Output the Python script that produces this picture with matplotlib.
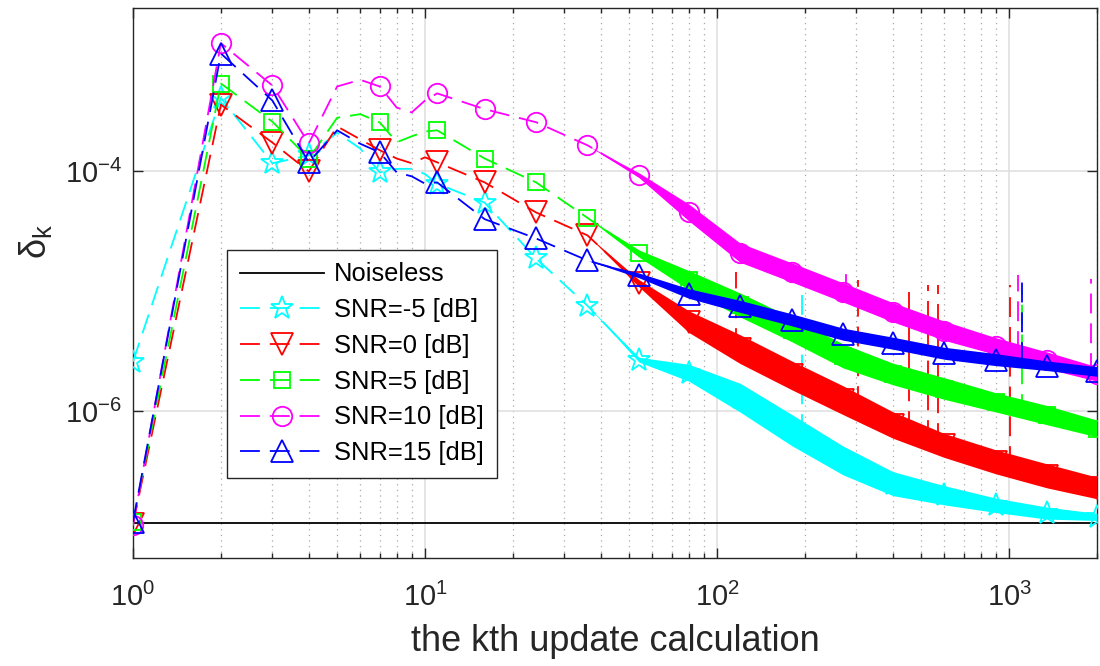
import numpy as np
import matplotlib
matplotlib.use('Agg')
import matplotlib.pyplot as plt
from matplotlib.ticker import FixedLocator, NullLocator, LogLocator

plt.rcParams['font.family'] = ['Liberation Sans', 'DejaVu Sans']
plt.rcParams['mathtext.fontset'] = 'custom'
plt.rcParams['mathtext.rm'] = 'Liberation Sans'
plt.rcParams['mathtext.it'] = 'Liberation Sans:italic'
plt.rcParams['mathtext.bf'] = 'Liberation Sans:bold'
plt.rcParams['axes.unicode_minus'] = False

# ---------------- data ----------------
k = [1, 2, 3, 4, 5, 6, 7, 8, 9, 10, 11, 16, 24, 36, 54, 80, 120, 180, 270, 400, 600, 900, 1350, 2000]
marker_k = [1, 2, 3, 4, 7, 11, 16, 24, 36, 54, 80, 120, 180, 270, 400, 600, 900, 1350, 2000]

noiseless_k = [1, 2000]
noiseless = [1.17e-7, 1.17e-7]

snr_m5 = [2.6e-6, 4.1e-4, 1.17e-4, 1.36e-4, 2.1e-4, 1.55e-4, 9.8e-5, 1.05e-4, 1.05e-4, 9.5e-5, 7.9e-5,
          5.5e-5, 1.88e-5, 7.6e-6, 2.7e-6, 2.1e-6, 1.3e-6, 7.0e-7, 3.9e-7, 2.5e-7, 2.0e-7, 1.65e-7, 1.42e-7, 1.32e-7]
snr_0 = [1.15e-7, 3.6e-4, 1.74e-4, 1.0e-4, 2.37e-4, 1.85e-4, 1.5e-4, 1.28e-4, 1.17e-4, 1.31e-4, 1.19e-4,
         8.1e-5, 4.55e-5, 2.93e-5, 1.17e-5, 5.6e-6, 3.3e-6, 2.0e-6, 1.24e-6, 7.7e-7, 5.2e-7, 3.8e-7, 2.9e-7, 2.3e-7]
snr_5 = [1.2e-7, 5.4e-4, 2.6e-4, 1.28e-4, 2.8e-4, 3.0e-4, 2.56e-4, 1.75e-4, 1.96e-4, 2.15e-4, 2.2e-4,
         1.28e-4, 8.1e-5, 4.1e-5, 2.07e-5, 1.24e-5, 7.7e-6, 4.8e-6, 2.9e-6, 2.05e-6, 1.55e-6, 1.19e-6, 9.3e-7, 7.2e-7]
snr_10 = [1.12e-7, 1.17e-3, 5.2e-4, 1.71e-4, 5.1e-4, 5.8e-4, 5.1e-4, 3.4e-4, 3.1e-4, 3.9e-4, 4.47e-4,
          3.3e-4, 2.57e-4, 1.65e-4, 9.3e-5, 4.55e-5, 2.1e-5, 1.44e-5, 9.8e-6, 6.7e-6, 4.7e-6, 3.5e-6, 2.66e-6, 2.05e-6]
snr_15 = [1.2e-7, 9.6e-4, 3.9e-4, 1.19e-4, 2.2e-4, 1.7e-4, 1.44e-4, 9.8e-5, 9.1e-5, 7.9e-5, 8.1e-5,
          4.0e-5, 2.76e-5, 1.81e-5, 1.36e-5, 9.6e-6, 7.5e-6, 5.8e-6, 4.4e-6, 3.7e-6, 3.05e-6, 2.7e-6, 2.4e-6, 2.15e-6]

# half-width of the noise band (decades) at each k
spread_m5 = [0]*14 + [0.02, 0.07, 0.12, 0.13, 0.12, 0.10, 0.08, 0.06, 0.05, 0.03]
spread_0 = [0]*14 + [0.03, 0.09, 0.12, 0.12, 0.12, 0.11, 0.10, 0.10, 0.10, 0.09]
spread_5 = [0]*14 + [0.03, 0.08, 0.10, 0.10, 0.10, 0.09, 0.09, 0.08, 0.08, 0.07]
spread_10 = [0]*14 + [0.02, 0.07, 0.08, 0.08, 0.08, 0.08, 0.08, 0.07, 0.07, 0.06]
spread_15 = [0]*14 + [0.02, 0.04, 0.05, 0.05, 0.05, 0.05, 0.05, 0.05, 0.04, 0.04]

# isolated spikes: k, top, base
spk_m5_k, spk_m5_top, spk_m5_base = [195], [1.17e-5], [6.5e-7]
spk_0_k = [116, 304, 455, 528, 571, 1008]
spk_0_top = [1.44e-5, 1.24e-5, 1.14e-5, 1.14e-5, 1.14e-5, 1.12e-5]
spk_0_base = [3.4e-6, 1.1e-6, 6.8e-7, 5.8e-7, 5.4e-7, 3.5e-7]
spk_5_k, spk_5_top, spk_5_base = [1109], [1.02e-5], [9.5e-7]
spk_10_k, spk_10_top, spk_10_base = [277, 1074, 1909], [1.41e-5, 1.36e-5, 1.28e-5], [9.5e-6, 3.2e-6, 2.1e-6]
spk_15_k, spk_15_top, spk_15_base = [1109], [1.31e-5], [2.6e-6]

labels = ['Noiseless', 'SNR=-5 [dB]', 'SNR=0 [dB]', 'SNR=5 [dB]', 'SNR=10 [dB]', 'SNR=15 [dB]']

# ---------------- figure ----------------
fig = plt.figure(figsize=(11, 6.66), dpi=100)
ax = fig.add_axes([133/1100, 1-558/666, (1097-133)/1100, (558-8)/666])
ax.set_xscale('log')
ax.set_yscale('log')

ax.plot(noiseless_k, noiseless, color='black', lw=1.3, label=labels[0], zorder=3)

series = [
    (snr_m5, spread_m5, spk_m5_k, spk_m5_top, spk_m5_base, '#00FFFF', '*', 17),
    (snr_0, spread_0, spk_0_k, spk_0_top, spk_0_base, '#FF0000', 'v', 16),
    (snr_5, spread_5, spk_5_k, spk_5_top, spk_5_base, '#00FF00', 's', 12),
    (snr_10, spread_10, spk_10_k, spk_10_top, spk_10_base, '#FF00FF', 'o', 14),
    (snr_15, spread_15, spk_15_k, spk_15_top, spk_15_base, '#0000FF', '^', 16),
]
mark_idx = [k.index(m) for m in marker_k]
dash = (11, 5.5)
for i, (vals, spr, sk, stop, sbase, col, mk, ms) in enumerate(series):
    z = 4 + i
    v = np.array(vals)
    s = np.array(spr)
    ax.fill_between(k, v * 10**(-s), v * 10**s, color=col, lw=0, zorder=z)
    for kk, t, b in zip(sk, stop, sbase):
        ax.plot([kk, kk], [b, t], color=col, lw=1.3, dashes=dash, zorder=z)
    ax.plot(k, vals, color=col, lw=1.3, dashes=dash, marker=mk, markersize=ms,
            markerfacecolor='none', markeredgecolor=col, markeredgewidth=1.3,
            markevery=mark_idx, label=labels[i + 1], zorder=z)

ax.set_xlim(1, 2000)
ax.set_ylim(6e-8, 2.3e-3)

ax.xaxis.set_major_locator(FixedLocator([1, 10, 100, 1000]))
ax.xaxis.set_minor_locator(LogLocator(base=10, subs=np.arange(2, 10)))
ax.yaxis.set_major_locator(FixedLocator([1e-6, 1e-4]))
ax.yaxis.set_minor_locator(NullLocator())

ax.grid(True, which='major', axis='both', color='#dedede', lw=1.1, zorder=0)
ax.grid(True, which='minor', axis='x', color='#a8a8a8', lw=0.9, linestyle=(0, (1, 3.5)), zorder=0)
ax.set_axisbelow(True)

ax.tick_params(which='both', direction='in', top=True, right=True, colors='#262626',
               labelsize=21, width=1.0)
ax.tick_params(which='major', length=7)
ax.tick_params(which='minor', length=3.5)
ax.tick_params(axis='x', which='major', pad=18)
ax.tick_params(axis='y', which='major', pad=8)
for sp in ax.spines.values():
    sp.set_color('#262626')
    sp.set_linewidth(1.0)

ax.set_xlabel('the kth update calculation', fontsize=26, color='#262626')
ax.xaxis.set_label_coords(0.5, -0.12)
ax.set_ylabel(r'$\mathregular{\delta_k}$', fontsize=26, color='#262626')
ax.yaxis.set_label_coords(-0.082, 0.575)

leg = ax.legend(loc='lower left', bbox_to_anchor=((227-133)/964, (558-478)/550),
                borderaxespad=0,
                fontsize=18.4, handlelength=3.3, handletextpad=0.4, labelspacing=0.46,
                borderpad=0.5, fancybox=False, framealpha=1, edgecolor='#262626', numpoints=1)
leg.get_frame().set_linewidth(1.0)
leg.set_zorder(20)

fig.savefig('out.png', dpi=100)
